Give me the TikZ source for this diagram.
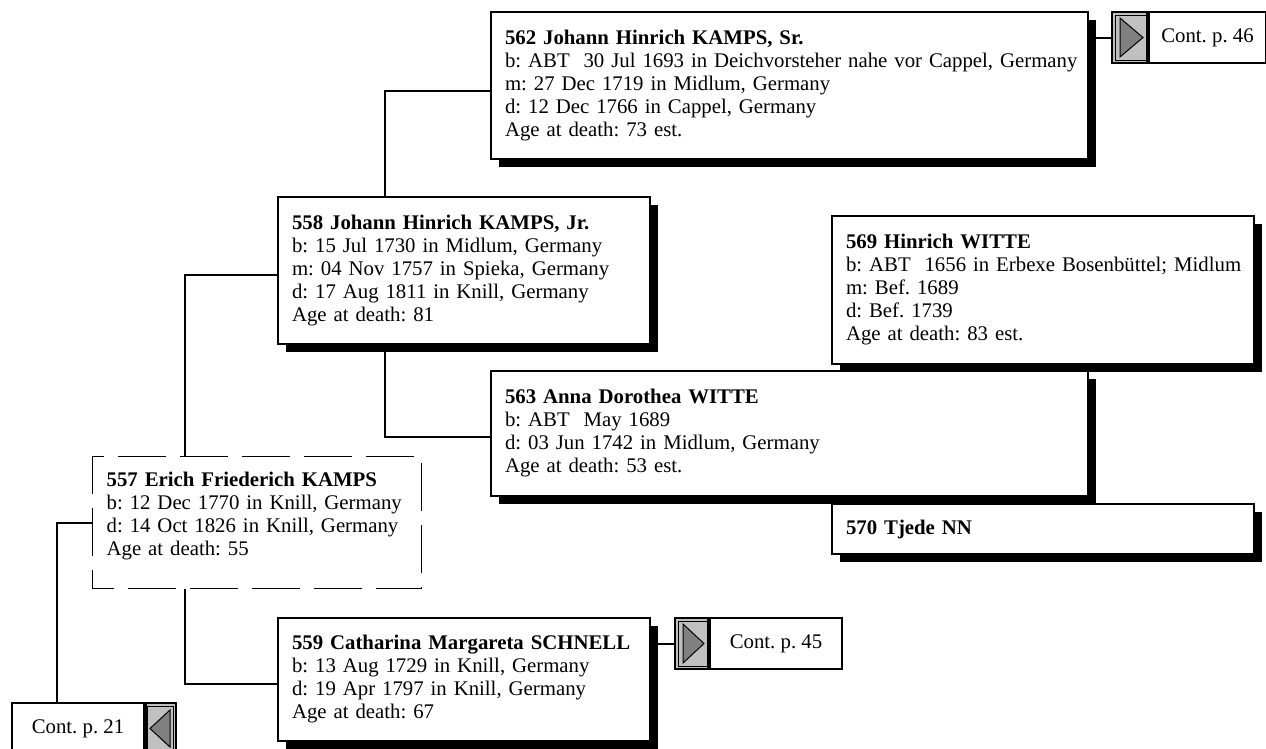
\documentclass[tikz,border=0pt]{standalone}
\usepackage{fontspec}
\setmainfont{Liberation Serif}
\usetikzlibrary{shadows,positioning}

\definecolor{cellgrey}{RGB}{192,192,192}
\definecolor{arrowgrey}{RGB}{128,128,128}

\tikzset{
  person/.style={draw, line width=2pt, fill=white, anchor=north west, align=left,
    inner xsep=14pt, inner ysep=0pt, font=\fontsize{20.8}{23}\selectfont\frenchspacing,
    drop shadow={shadow xshift=8pt, shadow yshift=-8pt, opacity=1, fill=black}},
  dashbox/.style={draw, line width=1.3pt, dash pattern=on 48pt off 14pt, dash phase=27pt,
    fill=white, anchor=north west, align=left,
    inner xsep=14pt, inner ysep=0pt, font=\fontsize{20.8}{23}\selectfont\frenchspacing},
  contbox/.style={draw, line width=2pt, fill=white, anchor=north west, inner sep=0pt,
    minimum height=51pt, font=\fontsize{20.8}{23}\selectfont\frenchspacing},
  cellright/.style={draw, line width=2pt, fill=cellgrey, inner sep=0pt, minimum height=51pt,
    path picture={
      \draw[line width=.7pt] ([xshift=3pt,yshift=-3pt]path picture bounding box.north west)
        rectangle ([xshift=-1pt,yshift=3pt]path picture bounding box.south east);
      \filldraw[fill=arrowgrey, line width=1pt]
        ([xshift=8pt,yshift=-6pt]path picture bounding box.north west)
        -- ([xshift=-4pt]path picture bounding box.east)
        -- ([xshift=8pt,yshift=6pt]path picture bounding box.south west) -- cycle;}},
  cellleft/.style={draw, line width=2pt, fill=cellgrey, inner sep=0pt, minimum height=51pt,
    path picture={
      \draw[line width=.7pt] ([xshift=1pt,yshift=-3pt]path picture bounding box.north west)
        rectangle ([xshift=-3pt,yshift=3pt]path picture bounding box.south east);
      \filldraw[fill=arrowgrey, line width=1pt]
        ([xshift=-6pt,yshift=-7pt]path picture bounding box.north east)
        -- ([xshift=4pt]path picture bounding box.west)
        -- ([xshift=-6pt,yshift=7pt]path picture bounding box.south east) -- cycle;}},
  link/.style={line width=2pt}
}

\begin{document}
\begin{tikzpicture}[x=1pt, y=-1pt]
\useasboundingbox (0,0) rectangle (1266,748);

\node[person, text width=569pt, minimum height=147pt] (p562) at (490,11)
  {\textbf{562 Johann Hinrich KAMPS, Sr.}\\
   \mbox{b: ABT\ \ 30 Jul 1693 in Deichvorsteher nahe vor Cappel, Germany}\\
   m: 27 Dec 1719 in Midlum, Germany\\
   d: 12 Dec 1766 in Cappel, Germany\\
   Age at death: 73 est.};
\node[person, text width=344pt, minimum height=147pt] (p558) at (277,196)
  {\textbf{558 Johann Hinrich KAMPS, Jr.}\\
   b: 15 Jul 1730 in Midlum, Germany\\
   m: 04 Nov 1757 in Spieka, Germany\\
   d: 17 Aug 1811 in Knill, Germany\\
   Age at death: 81};
\node[person, text width=394pt, minimum height=148pt] (p569) at (831,215)
  {\textbf{569 Hinrich WITTE}\\
   \mbox{b: ABT\ \ 1656 in Erbexe Bosenbüttel; Midlum}\\
   m: Bef. 1689\\
   d: Bef. 1739\\
   Age at death: 83 est.};
\node[person, text width=569pt, minimum height=125pt] (p563) at (490,370)
  {\textbf{563 Anna Dorothea WITTE}\\
   b: ABT\ \ May 1689\\
   d: 03 Jun 1742 in Midlum, Germany\\
   Age at death: 53 est.};
\node[person, text width=394pt, minimum height=50pt] (p570) at (831,503)
  {\textbf{570 Tjede NN}};
\node[dashbox, text width=301pt, minimum height=132pt] (p557) at (92,456)
  {\textbf{557 Erich Friederich KAMPS}\\
   b: 12 Dec 1770 in Knill, Germany\\
   d: 14 Oct 1826 in Knill, Germany\\
   Age at death: 55\par\vspace{14pt}\hrule height 0pt};
\node[person, text width=344pt, minimum height=123pt] (p559) at (277,617)
  {\textbf{559 Catharina Margareta SCHNELL}\\
   b: 13 Aug 1729 in Knill, Germany\\
   d: 19 Apr 1797 in Knill, Germany\\
   Age at death: 67};

% continuation boxes
\node[contbox, minimum width=117pt] (c46) at (1148,11) {Cont. p. 46};
\node[cellright, minimum width=35pt, left=0pt of c46] (a46) {};
\node[contbox, minimum width=132pt] (c45) at (709,617) {Cont. p. 45};
\node[cellright, minimum width=33pt, left=0pt of c45] (a45) {};
\node[contbox, minimum width=132pt] (c21) at (11,702) {Cont. p. 21};
\node[cellleft, minimum width=30pt, right=0pt of c21] (a21) {};

\draw[link] ([xshift=108pt]p558.north west) |- ([yshift=-5pt]p562.west)
  ([xshift=108pt]p558.south west) |- ([yshift=-3pt]p563.west)
  ([xshift=93pt]p557.north west) |- ([yshift=-4pt]p558.west)
  ([xshift=93pt]p557.south west) |- ([yshift=-4pt]p559.west)
  (p557.west) -| ([xshift=46pt]c21.north west);
\draw[link] (p562.east |- a46.west) -- (a46.west)
  (p559.east |- a45.west) -- (a45.west);
\end{tikzpicture}
\end{document}
